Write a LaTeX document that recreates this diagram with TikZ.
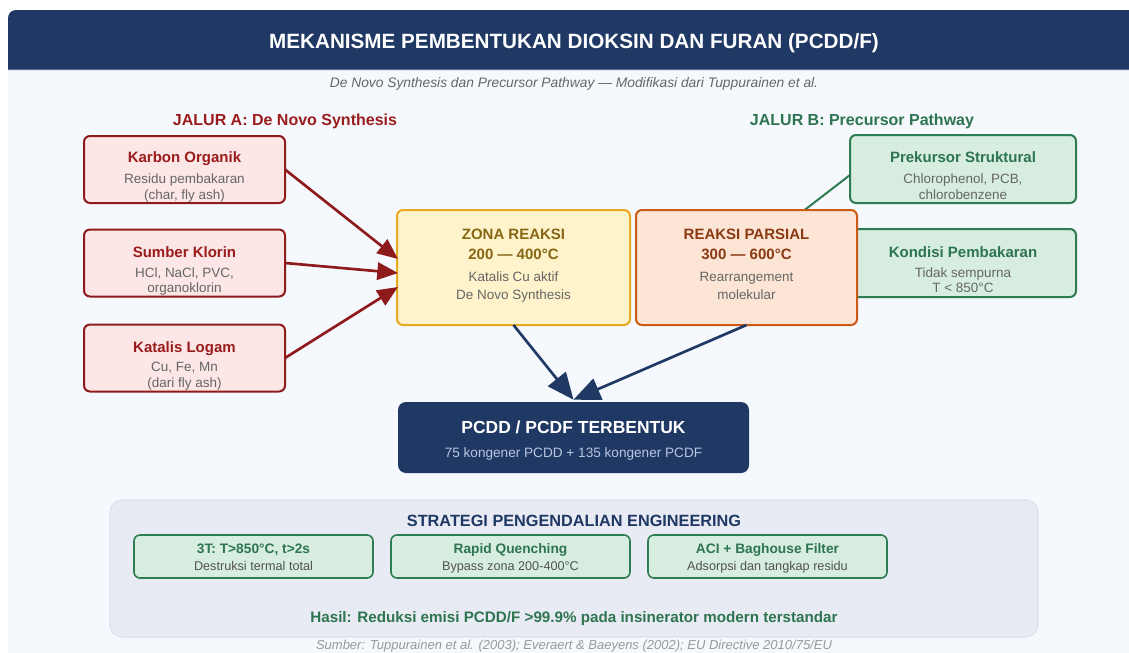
\documentclass[tikz,border=0pt]{standalone}
\usepackage{fontspec}
\setmainfont{Liberation Sans}
\usetikzlibrary{arrows.meta,calc}
\definecolor{navy}{HTML}{1F3864}
\definecolor{pagebg}{HTML}{F5F8FC}
\definecolor{redln}{HTML}{8E1B1B}
\definecolor{redfill}{HTML}{FCE6E6}
\definecolor{redtxt}{HTML}{9B1C1C}
\definecolor{yelfill}{HTML}{FFF3CC}
\definecolor{yelln}{HTML}{E8AA1E}
\definecolor{yeltxt}{HTML}{876614}
\definecolor{orfill}{HTML}{FCE5D5}
\definecolor{orln}{HTML}{CC5A14}
\definecolor{ortxt}{HTML}{8B3A12}
\definecolor{grfill}{HTML}{D6EDDF}
\definecolor{grln}{HTML}{2E7D52}
\definecolor{grtxt}{HTML}{2E7450}
\definecolor{bodytxt}{HTML}{666666}
\definecolor{panelfill}{HTML}{E8EBF3}
\definecolor{panelln}{HTML}{DCE0EA}
\definecolor{subtxt}{HTML}{B8C7E0}
\definecolor{foottxt}{HTML}{999999}
\newcommand\fsz[1]{\fontsize{#1}{#1}\selectfont}
\tikzset{
  boxbase/.style={rectangle, rounded corners=4.5pt, inner sep=0pt, outer sep=0pt, line width=1.5pt},
  redbox/.style={boxbase, draw=redln, fill=redfill, minimum width=150.75pt, minimum height=50.25pt},
  greenbox/.style={boxbase, draw=grln, fill=grfill, minimum width=169.5pt, minimum height=51pt},
  yelbox/.style={boxbase, draw=yelln, fill=yelfill, minimum width=174.75pt, minimum height=86.25pt},
  orbox/.style={boxbase, draw=orln, fill=orfill, minimum width=165.75pt, minimum height=86.25pt},
  navybox/.style={rectangle, rounded corners=6pt, inner sep=0pt, fill=navy, minimum width=263.25pt, minimum height=53.25pt},
  smallbox/.style={boxbase, line width=1.2pt, draw=grln, fill=grfill, minimum width=179.25pt, minimum height=32.25pt},
  lbl/.style={anchor=base, inner sep=0pt},
  ttl/.style={lbl, font=\bfseries\fsz{11.25pt}},
  body/.style={lbl, text=bodytxt, font=\fsz{10.1pt}},
  redarrow/.style={draw=redln, line width=2pt, -{Triangle[length=15.5pt,width=13pt]}},
  navyarrow/.style={draw=navy, line width=2pt, -{Triangle[length=20pt,width=17pt]}},
}
\begin{document}
\begin{tikzpicture}[x=0.75pt,y=-0.75pt]
\useasboundingbox (0,0) rectangle (1129,653);
% backgrounds
\fill[pagebg] (8,70) rectangle (1129,653);
\fill[navy] (8,70) [rounded corners=6pt] -- (8,10) [sharp corners] -- (1129,10) -- (1129,70) -- cycle;
\draw[navy!70!white, line width=0.8pt] (8,69.5) -- (1129,69.5);
\node[lbl, text=white, font=\bfseries\fsz{15.5pt}] (title) at (574,48) {MEKANISME PEMBENTUKAN DIOKSIN DAN FURAN (PCDD/F)};
\node[lbl, text=bodytxt, font=\itshape\fsz{10.35pt}] (subtitle) at (574,87.4) {De Novo Synthesis dan Precursor Pathway — Modifikasi dari Tuppurainen et al.};

\node[lbl, text=redtxt, font=\bfseries\fsz{12pt}] (jalurA) at (285,125.6) {JALUR A: De Novo Synthesis};
\node[lbl, text=grtxt, font=\bfseries\fsz{12pt}] (jalurB) at (862,125.6) {JALUR B: Precursor Pathway};

% left boxes
\node[redbox] (kar) at (184.5,169.5) {};
\node[ttl, text=redtxt] (karT) at (184.5,162.3) {Karbon Organik};
\node[body] (karB1) at (184.5,183.7) {Residu pembakaran};
\node[body] (karB2) at (184.5,199.7) {(char, fly ash)};

\node[redbox] (klor) at (184.5,263) {};
\node[ttl, text=redtxt] (klorT) at (184.5,257.3) {Sumber Klorin};
\node[body] (klorB1) at (184.5,277.7) {HCl, NaCl, PVC,};
\node[body] (klorB2) at (184.5,292.7) {organoklorin};

\node[redbox] (kat) at (184.5,358) {};
\node[ttl, text=redtxt] (katT) at (184.5,352.3) {Katalis Logam};
\node[body] (katB1) at (184.5,371.7) {Cu, Fe, Mn};
\node[body] (katB2) at (184.5,387.7) {(dari fly ash)};

% right boxes
\node[greenbox] (pre) at (963,169) {};
\node[ttl, text=grtxt] (preT) at (963,162.3) {Prekursor Struktural};
\node[body] (preB1) at (963,183.7) {Chlorophenol, PCB,};
\node[body] (preB2) at (963,199.7) {chlorobenzene};

\node[greenbox] (kon) at (963,263) {};
\node[ttl, text=grtxt] (konT) at (963,257.3) {Kondisi Pembakaran};
\node[body] (konB1) at (963,277.7) {Tidak sempurna};
\node[body] (konB2) at (963,292.7) {T < 850°C};

% green connector (behind orange box)
\draw[grln, line width=1.5pt] ($(pre.west)+(0,6)$) -- (802,212) coordinate (preEnd);

% center boxes
\node[yelbox] (zona) at (513.5,267.5) {};
\node[ttl, text=yeltxt] (zonaT1) at (513.5,239.3) {ZONA REAKSI};
\node[ttl, text=yeltxt] (zonaT2) at (513.5,259.3) {200 — 400°C};
\node[body] (zonaB1) at (513.5,281.7) {Katalis Cu aktif};
\node[body] (zonaB2) at (513.5,299.7) {De Novo Synthesis};

\node[orbox] (pars) at (746.5,267.5) {};
\node[ttl, text=ortxt] (parsT1) at (746.5,239.3) {REAKSI PARSIAL};
\node[ttl, text=ortxt] (parsT2) at (746.5,259.3) {300 — 600°C};
\node[body] (parsB1) at (746.5,281.7) {Rearrangement};
\node[body] (parsB2) at (746.5,299.7) {molekular};

% red arrows
\draw[redarrow] (kar.east) -- ($(zona.west)+(1,-8.5)$);
\draw[redarrow] (klor.east) -- ($(zona.west)+(1,5.5)$);
\draw[redarrow] (kat.east) -- ($(zona.west)+(1,19.5)$);

% result box
\node[navybox] (pcdd) at (573.5,437.5) {};
\node[lbl, text=white, font=\bfseries\fsz{13.1pt}] (pcddT) at (573.5,433) {PCDD / PCDF TERBENTUK};
\node[lbl, text=subtxt, font=\fsz{10.2pt}] (pcddB) at (573.5,457.8) {75 kongener PCDD + 135 kongener PCDF};

% navy arrows
\draw[navyarrow] (zona.south) -- ($(pcdd.north)+(0,-2)$);
\draw[navyarrow] (pars.south) -- ($(pcdd.north)+(0,-2)$);

% bottom panel
\node[rectangle, rounded corners=9pt, fill=panelfill, draw=panelln, line width=0.8pt, minimum width=696pt, minimum height=102.75pt, inner sep=0pt] (panel) at (574,568.5) {};
\node[lbl, text=navy, font=\bfseries\fsz{12.2pt}] (strat) at (574,526.7) {STRATEGI PENGENDALIAN ENGINEERING};

\node[smallbox] (s1) at (253.5,556.5) {};
\node[lbl, text=grtxt, font=\bfseries\fsz{10.3pt}] (s1T) at (253.5,553) {3T: T>850°C, t>2s};
\node[lbl, text=bodytxt!80!black, font=\fsz{9.5pt}] (s1B) at (253.5,570.5) {Destruksi termal total};

\node[smallbox] (s2) at (510.5,556.5) {};
\node[lbl, text=grtxt, font=\bfseries\fsz{10.3pt}] (s2T) at (510.5,553) {Rapid Quenching};
\node[lbl, text=bodytxt!80!black, font=\fsz{9.5pt}] (s2B) at (510.5,570.5) {Bypass zona 200-400°C};

\node[smallbox] (s3) at (767.5,556.5) {};
\node[lbl, text=grtxt, font=\bfseries\fsz{10.3pt}] (s3T) at (767.5,553) {ACI + Baghouse Filter};
\node[lbl, text=bodytxt!80!black, font=\fsz{9.5pt}] (s3B) at (767.5,570.5) {Adsorpsi dan tangkap residu};

\node[lbl, text=grtxt, font=\bfseries\fsz{11.4pt}] (hasil) at (574,622.3) {Hasil: Reduksi emisi PCDD/F >99.9\% pada insinerator modern terstandar};
\node[lbl, text=foottxt, font=\itshape\fsz{9.75pt}] (foot) at (574,649.5) {Sumber: Tuppurainen et al. (2003); Everaert \& Baeyens (2002); EU Directive 2010/75/EU};
\end{tikzpicture}
\end{document}
